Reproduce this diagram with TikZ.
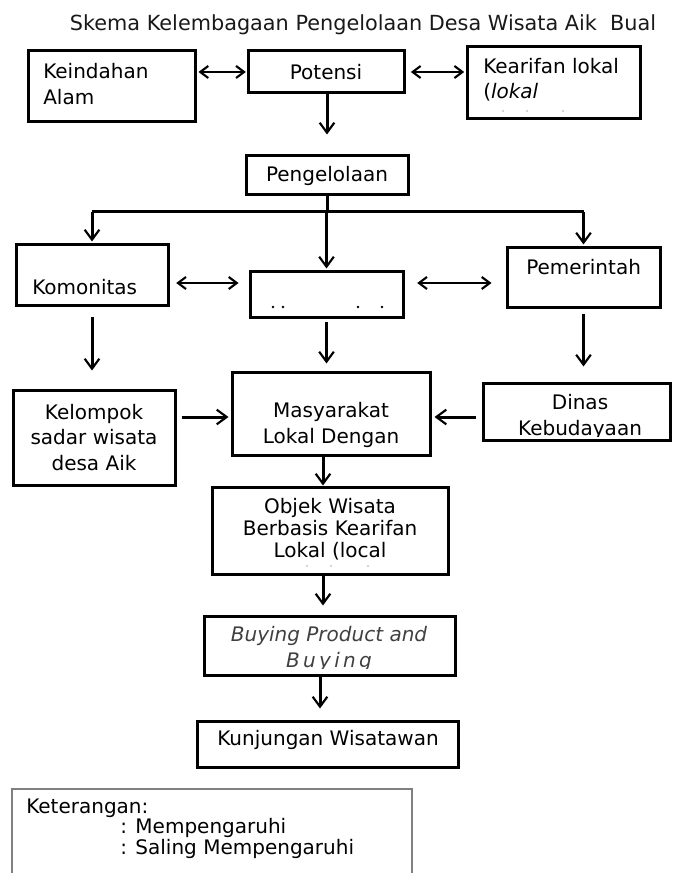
\documentclass[tikz,border=0pt]{standalone}
\usepackage{fontspec}
\setmainfont{DejaVu Sans}
\usetikzlibrary{arrows.meta,fit}

\tikzset{
  kotak/.style={draw, line width=2.25pt, inner sep=0pt},
  teks/.style={font=\fontsize{15pt}{19pt}\selectfont, inner sep=0pt, align=center},
  panah/.style={line width=2.25pt, -{Straight Barb[length=7.5pt,width=11pt,line width=1.6pt]}},
  saling/.style={line width=1.6pt, {Straight Barb[length=6pt,width=9pt]}-{Straight Barb[length=6pt,width=9pt]}},
}

\begin{document}
\begin{tikzpicture}[x=0.75pt,y=-0.75pt]
  \useasboundingbox (0,0) rectangle (672,873);

  \node[teks, font=\fontsize{15.6pt}{19pt}\selectfont, text=black!90] (judul) at (363,25) {Skema Kelembagaan Pengelolaan Desa Wisata Aik\ \ Bual};

  % top row - potensi and its two sources
  \node[kotak, fit={(28,51) (195,122)}] (kei) {};
  \node[kotak, fit={(248,51) (404,93)}] (pot) {};
  \node[kotak, fit={(467,47) (640,119)}] (kea) {};
  \node[teks, anchor=west, align=left] (kei-t) at (43,84) {Keindahan\\Alam};
  \node[teks] (pot-t) at (326,72) {Potensi};
  \node[teks, anchor=west, align=left] (kea-t) at (483,80) {Kearifan lokal\\(\textit{lokal}};
  \foreach \x in {503,527,563} % cut off third line
    \fill[gray!45] (\x,111) circle (0.8pt);

  \node[kotak, fit={(246,156) (408,195)}] (peng) {};
  \node[teks] (peng-t) at (327,176) {Pengelolaan};

  % middle row - the three managers
  \node[kotak, fit={(16,245) (168,305)}] (kom) {};
  \node[kotak, fit={(250,272) (403,317)}] (mid) {};
  \node[kotak, fit={(507,248) (660,307)}] (pem) {};
  \node[teks, anchor=west] (kom-t) at (32,287) {Komonitas};
  \node[teks, anchor=west] (pem-t) at (526,267) {Pemerintah};
  \foreach \x in {273,283,358,382} % cut off text in the middle box
    \fill (\x,307) circle (1pt);

  % lower row
  \node[kotak, fit={(13,390) (175,485)}] (kel) {};
  \node[kotak, fit={(232,372) (430,455)}] (mas) {};
  \node[kotak, fit={(483,383) (670,440)}] (din) {};
  \node[teks] (kel-t) at (94,437.5) {Kelompok\\sadar wisata\\desa Aik};
  \node[teks] (mas-t) at (331,425) {Masyarakat\\Lokal Dengan};
  \begin{scope}
    \clip (484.5,384.5) rectangle (668.5,436);
    \node[teks] (din-t) at (580,417) {Dinas\\Kebudayaan};
  \end{scope}

  % chain down to the visitors
  \node[kotak, fit={(212,487) (448,574)}] (obj) {};
  \node[kotak, fit={(204,616) (455,675)}] (buy) {};
  \node[kotak, fit={(197,721) (458,767)}] (kun) {};
  \node[teks, font=\fontsize{15pt}{16.5pt}\selectfont] (obj-t) at (330,529) {Objek Wisata\\Berbasis Kearifan\\Lokal (local};
  \foreach \x in {307,331,368}
    \fill[gray!45] (\x,566) circle (0.8pt);
  \begin{scope}
    \clip (205.5,617.5) rectangle (453.5,668);
    \node[teks, text=black!75, font=\fontsize{15pt}{19pt}\selectfont\itshape] (buy-t) at (329,649) {Buying Product and\\B\,u\,y\,i\,n\,g};
  \end{scope}
  \node[teks] (kun-t) at (328,740) {Kunjungan Wisatawan};

  % legend
  \draw[gray, line width=0.8pt] (12,873) |- (412,789) -- (412,873);
  \node[teks, anchor=west] (ket) at (26,808) {Keterangan:};
  \node[teks, anchor=west] (ket1) at (120,828) {: Mempengaruhi};
  \node[teks, anchor=west] (ket2) at (120,849) {: Saling Mempengaruhi};

  % connectors
  \coordinate (cabang) at (0,212);
  \coordinate (jalur) at (0,283);
  \coordinate (samping) at (0,417);
  \coordinate (poros) at (323,0);
  \coordinate (poros2) at (320,0);

  \draw[saling, shorten <=1.5pt, shorten >=0.5pt] (pot.west -| kei.east) -- (pot.west);
  \draw[saling, shorten <=4pt, shorten >=1pt] (pot.east) -- (pot.east -| kea.west);
  \draw[panah, shorten >=15pt] (pot.south -| peng.north) -- (peng.north);

  \draw[line width=2.25pt] (peng.south) -- (peng.south |- cabang); % trunk
  \draw[line width=2.25pt] (kom.north |- cabang) -- (pem.north |- cabang);
  \foreach \n in {kom,mid,pem}
    \draw[panah, shorten >=1.5pt] (\n.north |- cabang) -- (\n.north);

  \draw[saling, shorten <=5pt, shorten >=7.5pt] (kom.east |- jalur) -- (mid.west |- jalur);
  \draw[saling, shorten <=9.5pt, shorten >=10.5pt] (mid.east |- jalur) -- (pem.west |- jalur);

  \draw[panah, shorten <=7.5pt, shorten >=13.5pt] (kom.south) -- (kom.south |- kel.north);
  \draw[panah, shorten <=2.25pt, shorten >=5.25pt] (mid.south) -- (mid.south |- mas.north);
  \draw[panah, shorten <=3.75pt, shorten >=11.25pt] (pem.south) -- (pem.south |- din.north);

  \draw[panah, shorten <=3.75pt, shorten >=1.5pt] (kel.east |- samping) -- (mas.west |- samping);
  \draw[panah, shorten <=4.5pt, shorten >=2.25pt] (din.west |- samping) -- (mas.east |- samping);

  \draw[panah] (mas.south -| poros) -- (obj.north -| poros);
  \draw[panah, shorten >=6.75pt] (obj.south -| poros) -- (buy.north -| poros);
  \draw[panah, shorten >=8.25pt] (buy.south -| poros2) -- (kun.north -| poros2);
\end{tikzpicture}
\end{document}
